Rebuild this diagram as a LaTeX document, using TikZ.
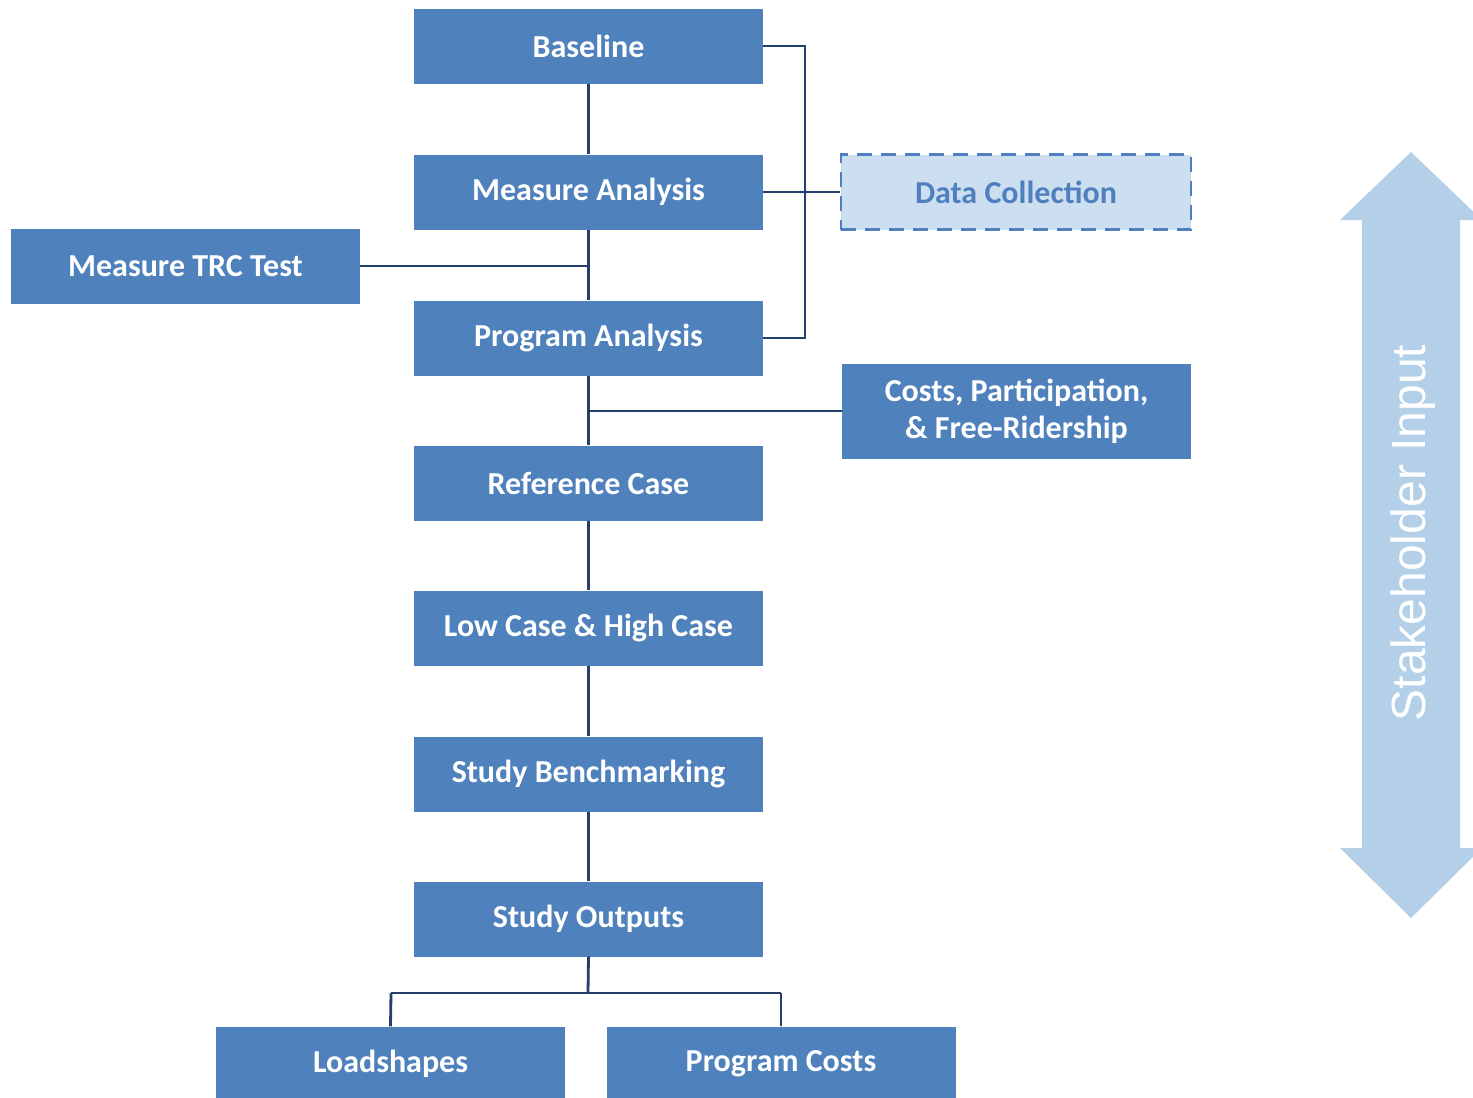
\documentclass[tikz,border=0pt]{standalone}
\usepackage{fontspec}
\setmainfont{Carlito}
\newfontfamily\arialfont{Liberation Sans}
\usetikzlibrary{shapes.arrows}
\definecolor{boxblue}{HTML}{4F81BD}
\definecolor{linenavy}{HTML}{243F6B}
\definecolor{lightfill}{HTML}{CCDFF0}
\definecolor{dashblue}{HTML}{4F7FBF}
\definecolor{arrowblue}{HTML}{B4D0E8}
\begin{document}
\begin{tikzpicture}[x=1pt,y=-1pt,
  bluebox/.style={fill=boxblue,draw=none,minimum width=349pt,minimum height=75pt,
    inner sep=0pt,text=white,font=\fontsize{32}{37}\selectfont\bfseries,align=center},
  conn/.style={draw=linenavy,line width=2.8pt}]
\useasboundingbox (0,0) rectangle (1473,1098);
\begin{scope}
\clip (0,0) rectangle (1473,1098);
% big double arrow
\fill[arrowblue] (1411,152) -- (1482,220) -- (1460,220) -- (1460,848) -- (1482,848)
  -- (1411,918) -- (1340,848) -- (1362,848) -- (1362,220) -- (1340,220) -- cycle;
\node[rotate=90,text=white,font=\arialfont\fontsize{48}{50}\selectfont] (stake) at (1413,533) {Stakeholder Input};

\node[bluebox] (base) at (588.5,46) {Baseline};
\node[bluebox] (meas) at (588.5,192) {Measure Analysis};
\node[bluebox] (trc) at (185.5,266) {Measure TRC Test};
\node[bluebox] (prog) at (588.5,338) {Program Analysis};
\node[bluebox,minimum height=95pt] (costs) at (1016.5,411) {Costs, Participation,\\ \& Free-Ridership};
\node[bluebox] (ref) at (588.5,483) {Reference Case};
\node[bluebox] (low) at (588.5,628) {Low Case \& High Case};
\node[bluebox] (bench) at (588.5,774) {Study Benchmarking};
\node[bluebox] (out) at (588.5,919) {Study Outputs};
\node[bluebox] (load) at (390.5,1064) {Loadshapes};
\node[bluebox] (pcost) at (781,1064) {Program Costs};
\node[fill=lightfill,draw=dashblue,line width=2.8pt,dash pattern=on 15pt off 9pt,
  minimum width=350pt,minimum height=75pt,inner sep=0pt,text=dashblue,
  font=\fontsize{32}{37}\selectfont\bfseries] (data) at (1016,192) {Data Collection};

\coordinate (spTRC) at (588,266);
\coordinate (spCost) at (588,411);
\coordinate (brTop) at (805,46);
\coordinate (brBot) at (805,338);
\coordinate (fork) at (588,993);
\coordinate (forkL) at (391,993);
\coordinate (forkR) at (781,993);

\draw[conn] (base.south) -- (meas.north);
\draw[conn] (meas.south) -- (prog.north);
\draw[conn] (prog.south) -- (ref.north);
\draw[conn] (ref.south) -- (low.north);
\draw[conn] (low.south) -- (bench.north);
\draw[conn] (bench.south) -- (out.north);
\draw[conn] (trc.east) -- (spTRC);
\draw[conn] (costs.west) -- (spCost);
\draw[conn] (base.east) -- (brTop) -- (brBot) -- (prog.east);
\draw[conn] (meas.east) -- (data.west);
\draw[conn] (out.south) -- (fork);
\draw[conn] (forkL) -- (forkR);
\draw[conn] (forkL) -- (load.north);
\draw[conn] (forkR) -- (pcost.north);
\end{scope}
\end{tikzpicture}
\end{document}
